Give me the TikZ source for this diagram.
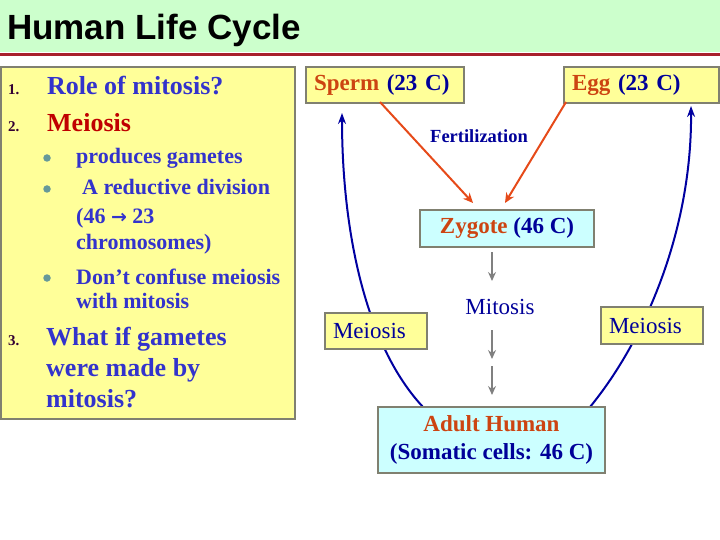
\documentclass[tikz,border=0pt]{standalone}
\usepackage{fontspec}
\setmainfont{Liberation Serif}
\newfontfamily\titlefont{Liberation Sans}
\newfontfamily\arrowfont{DejaVu Sans}
\usetikzlibrary{arrows.meta}
\definecolor{titlebg}{HTML}{CCFFCC}
\definecolor{redline}{HTML}{A8202C}
\definecolor{yellowbg}{HTML}{FFFF99}
\definecolor{cyanbg}{HTML}{CCFFFF}
\definecolor{boxgray}{HTML}{808070}
\definecolor{panelblue}{HTML}{3333CC}
\definecolor{darkblue}{HTML}{000099}
\definecolor{meired}{HTML}{C00000}
\definecolor{orangered}{HTML}{CC4411}
\definecolor{numcol}{HTML}{330033}
\definecolor{bulletcol}{HTML}{669999}
\definecolor{fertarrow}{HTML}{E64A19}
\definecolor{curveblue}{HTML}{0000A0}
\definecolor{arrowgray}{HTML}{808080}
\tikzset{
  txt/.style={anchor=base west, inner sep=0pt},
  itemtxt/.style={txt, text=panelblue, font=\bfseries\fontsize{26}{30}\selectfont},
  bultxt/.style={txt, text=panelblue, font=\bfseries\fontsize{22}{26}\selectfont},
  numtxt/.style={txt, text=numcol, font=\bfseries\fontsize{15}{17}\selectfont},
  bulletdot/.style={circle, fill=bulletcol, inner sep=0pt, minimum size=7.5pt},
  ybox/.style={draw=boxgray, fill=yellowbg, line width=2pt, inner sep=0pt},
  cbox/.style={draw=boxgray, fill=cyanbg, line width=2pt, inner sep=0pt, align=center},
  meibox/.style={ybox, font=\fontsize{23}{28}\selectfont, text=darkblue, text width=86pt, inner xsep=8pt, anchor=north west, align=left},
  rtxt/.style={font=\bfseries\fontsize{23}{29}\selectfont},
  fertarr/.style={draw=fertarrow, line width=2pt, -{Stealth[length=10pt,width=9pt]}},
  grayarr/.style={draw=arrowgray, line width=1.6pt, -{Stealth[length=9pt,width=8pt,inset=3pt]}},
  curvearr/.style={draw=curveblue, line width=2pt, -{Stealth[length=11pt,width=8pt]}}
}
\begin{document}
\begin{tikzpicture}[x=1pt,y=-1pt]
\useasboundingbox (0,0) rectangle (720,540);
% title bar
\fill[titlebg] (0,0) rectangle (720,52);
\draw[redline, line width=3pt] (0,54.5) -- (720,54.5);
\node[txt, font=\titlefont\bfseries\fontsize{35}{40}\selectfont] (title) at (7,40) {Human Life Cycle};

% left panel
\node[ybox, minimum width=294pt, minimum height=352pt, anchor=north west] (panel) at (0,66) {};
\node[numtxt] (n1) at (8,95) {1.};
\node[itemtxt] (i1) at (47,95) {Role of mitosis?};
\node[numtxt] (n2) at (8,132) {2.};
\node[itemtxt, text=meired] (i2) at (47,132) {Meiosis};
\node[bulletdot] (b1) at (47,158) {};
\node[bultxt] (l1) at (76,164) {produces gametes};
\node[bulletdot] (b2) at (47,189) {};
\node[bultxt] (l2) at (82,195) {A reductive division};
\node[bultxt] (l3) at (76,223) {(46 {\arrowfont\bfseries\fontsize{19}{22}\selectfont →} 23};
\node[bultxt] (l4) at (76,249) {chromosomes)};
\node[bulletdot] (b3) at (47,278) {};
\node[bultxt] (l5) at (76,284) {Don’t confuse meiosis};
\node[bultxt] (l6) at (76,308) {with mitosis};
\node[numtxt] (n3) at (8,345) {3.};
\node[itemtxt] (i3) at (46,345) {What if gametes};
\node[itemtxt] (i4) at (46,376) {were made by};
\node[itemtxt] (i5) at (46,407) {mitosis?};

% coordinates for connector ends
\coordinate (spS) at (380,102);
\coordinate (egS) at (566,102);
\coordinate (fz1) at (473,203);
\coordinate (fz2) at (505,203);
\coordinate (g1a) at (492,252);
\coordinate (g1b) at (492,281);
\coordinate (g2a) at (492,330);
\coordinate (g2b) at (492,359);
\coordinate (g3a) at (492,366);
\coordinate (g3b) at (492,395);
\coordinate (cLs) at (423,407);
\coordinate (cLe) at (342,113);
\coordinate (cRs) at (590,407);
\coordinate (cRe) at (691,106);

% meiosis curves (drawn first, behind boxes)
\draw[curvearr] (cLs) .. controls (365,345) and (342,230) .. (cLe);
\draw[curvearr] (cRs) .. controls (645,340) and (692,230) .. (cRe);

% right diagram boxes
\node[ybox, rtxt, minimum height=36pt, text width=142pt, inner xsep=8pt, anchor=north west, align=left] (sperm) at (305,66)
  {\textcolor{orangered}{Sperm} \textcolor{darkblue}{(23 C)}};
\node[ybox, rtxt, minimum height=36pt, text width=139pt, inner xsep=8pt, anchor=north west, align=left] (egg) at (563,66)
  {\textcolor{orangered}{Egg} \textcolor{darkblue}{(23 C)}};
\node[font=\bfseries\fontsize{18.5}{22}\selectfont, text=darkblue, inner sep=0pt] (fert) at (479,136) {Fertilization};
\node[cbox, rtxt, minimum width=174pt, minimum height=37pt] (zyg) at (507,228.5)
  {\textcolor{orangered}{Zygote} \textcolor{darkblue}{(46 C)}};
\node[font=\fontsize{23}{28}\selectfont, text=darkblue, inner sep=0pt] (mit) at (500,307) {Mitosis};
\node[meibox, minimum height=36pt] (meiL) at (324,312) {Meiosis};
\node[meibox, minimum height=37pt] (meiR) at (600,306) {Meiosis};
\node[cbox, rtxt, minimum width=227pt, minimum height=66pt] (adult) at (491.5,440)
  {\textcolor{orangered}{Adult Human}\\[-1pt]\textcolor{darkblue}{(Somatic cells: 46 C)}};

% fertilization arrows
\draw[fertarr] (spS) -- (fz1);
\draw[fertarr] (egS) -- (fz2);
% mitosis arrows
\draw[grayarr] (g1a) -- (g1b);
\draw[grayarr] (g2a) -- (g2b);
\draw[grayarr] (g3a) -- (g3b);
\end{tikzpicture}
\end{document}
